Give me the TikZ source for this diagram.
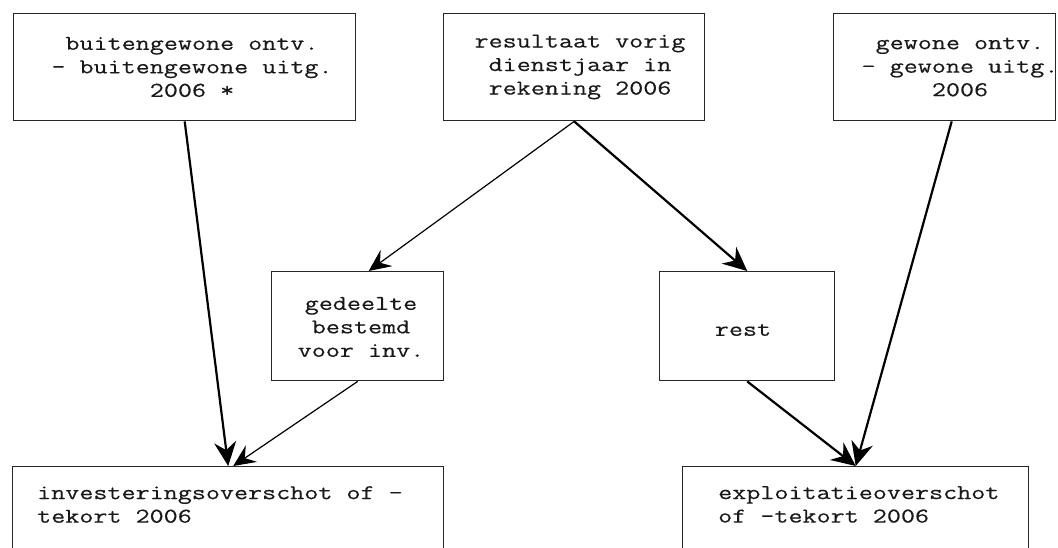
\documentclass[tikz,border=0pt]{standalone}
\usepackage{fontspec}
\newfontfamily\monoft[FakeStretch=1.3,FakeBold=0.3]{Latin Modern Mono}
\usetikzlibrary{arrows.meta}
\begin{document}
\begin{tikzpicture}[x=1bp,y=-1bp,
  box/.style={draw=black!85, line width=1.4bp, rectangle, inner sep=0pt, anchor=north west},
  txt/.style={font=\monoft\fontsize{21bp}{23.5bp}\selectfont, align=center, inner sep=0pt, text=black!90},
  ltxt/.style={font=\monoft\fontsize{21bp}{23.5bp}\selectfont, align=left, inner sep=0pt, anchor=north west, text=black!90},
  thick arr/.style={line width=2.2bp, -{Stealth[length=24bp,width=22bp,inset=8bp]}},
  thin arr/.style={line width=1.2bp, -{Stealth[length=22bp,width=20bp,inset=8bp]}}]
\useasboundingbox (0,0) rectangle (1058,548);
\fill[white] (0,0) rectangle (1058,548);
% boxes
\node[box, minimum width=342bp, minimum height=107bp] (b1) at (13,13) {};
\node[box, minimum width=261bp, minimum height=107bp] (b2) at (443,13) {};
\node[box, minimum width=222bp, minimum height=107bp] (b3) at (833,13) {};
\node[box, minimum width=172bp, minimum height=109bp] (ged) at (271,271) {};
\node[box, minimum width=175bp, minimum height=109bp] (rest) at (659,271) {};
\node[box, minimum width=431bp, minimum height=110bp] (inv) at (12,466) {};
\node[box, minimum width=346bp, minimum height=110bp] (expl) at (682,466) {};
% texts
\node[txt] (t1) at (192,67) {buitengewone ontv.\\- buitengewone uitg.\\2006 *};
\node[txt] (t2) at (580,67) {resultaat vorig\\dienstjaar in\\rekening 2006};
\node[txt] (t3) at (960,67) {gewone ontv.\\- gewone uitg.\\2006};
\node[txt] (t4) at (361,327) {gedeelte\\bestemd\\voor inv.};
\node[txt] (t5) at (743,330) {rest};
\node[ltxt] (t6) at (37,486) {investeringsoverschot of -\\tekort 2006};
\node[ltxt] (t7) at (718,486) {exploitatieoverschot\\of -tekort 2006};
% connectors
\draw[thick arr] (b1.south) -- (inv.north);
\draw[thin arr] (b2.south) -- ([xshift=11bp]ged.north);
\draw[thick arr] (b2.south) -- (rest.north);
\draw[thin arr] (ged.south) -- ([xshift=5bp]inv.north);
\draw[thick arr] (rest.south) -- (expl.north);
\draw[thick arr] ([xshift=7bp]b3.south) -- (expl.north);
\end{tikzpicture}
\end{document}
